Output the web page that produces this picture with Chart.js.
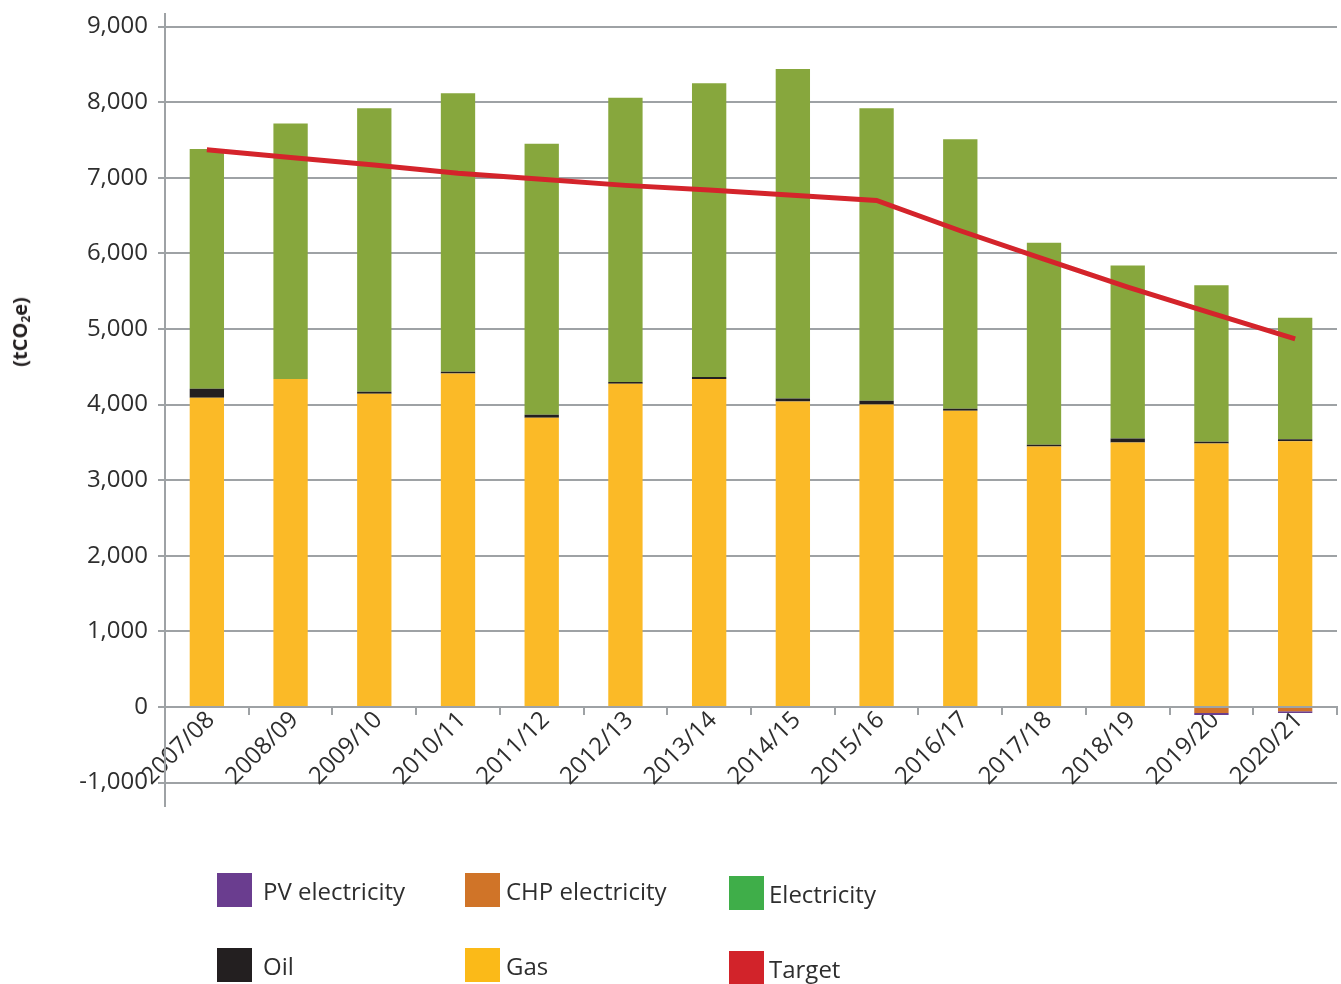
<!DOCTYPE html>
<html>
<head>
<meta charset="utf-8">
<script src="https://cdn.jsdelivr.net/npm/chart.js@4.4.1/dist/chart.umd.min.js"></script>
<style>
  html, body { margin: 0; padding: 0; background: #ffffff; }
  #wrap { position: relative; width: 1341px; height: 984px; overflow: hidden; }
  #c { position: absolute; left: 0; top: 0; }
  .legend-item { position: absolute; display: flex; align-items: center;
    font-family: 'Open Sans', sans-serif; font-weight: 400; font-size: 24px; color: #2e2e2e; white-space: nowrap; }
  .legend-item .swatch { width: 35px; height: 34px; flex: none; }
  #ytitle { position: absolute; left: 20px; top: 332px; transform: translate(-50%, -50%) rotate(-90deg);
    font-family: 'Open Sans', sans-serif; font-weight: 700; font-size: 20px; color: #231f20; white-space: nowrap; line-height: 1; }
  #ytitle sub { font-size: 12px; vertical-align: -3px; line-height: 0; }
</style>
</head>
<body>
<div id="wrap">
  <canvas id="c" width="1341" height="984"></canvas>
  <div id="ytitle">(tCO<sub>2</sub>e)</div>
  <div id="legend"></div>
</div>
<script>
// Financial years
const categories = ['2007/08', '2008/09', '2009/10', '2010/11', '2011/12', '2012/13', '2013/14',
                    '2014/15', '2015/16', '2016/17', '2017/18', '2018/19', '2019/20', '2020/21'];

// Emissions by source (tCO2e)
const gas         = [4090, 4340, 4145, 4410, 3825, 4275, 4340, 4040, 4000, 3920, 3445, 3500, 3485, 3515];
const oil         = [ 120,    0,   25,   25,   40,   25,   25,   40,   50,   25,   25,   50,   25,   25];
const electricity = [3170, 3380, 3750, 3685, 3585, 3760, 3885, 4360, 3870, 3565, 2670, 2290, 2070, 1610];
const chpElectricity = [0, 0, 0, 0, 0, 0, 0, 0, 0, 0, 0, 0, -80, -55];
const pvElectricity  = [0, 0, 0, 0, 0, 0, 0, 0, 0, 0, 0, 0, -25, -25];
const target      = [7370, 7270, 7170, 7060, 6980, 6900, 6840, 6770, 6700, 6300, 5925, 5555, 5210, 4870];

// Value axis range and tick values
const yMin = -1310;
const yMax = 9167;
const yTicks = [-1000, 0, 1000, 2000, 3000, 4000, 5000, 6000, 7000, 8000, 9000];

const FONT = "'Open Sans', sans-serif";
const GRID = '#9ea2a5';
const TEXT = '#2e2e2e';

const colors = {
  gas: '#fbba27',
  oil: '#231f20',
  electricity: '#87a73d',
  chp: '#d2742a',
  pv: '#6a3e8e',
  target: '#d4242b'
};

// Legend entries and their swatch colours
const legendEntries = [
  { label: 'PV electricity',  color: '#6a3d8f' },
  { label: 'CHP electricity', color: '#d07428' },
  { label: 'Electricity',     color: '#3fae49' },
  { label: 'Oil',             color: '#231f20' },
  { label: 'Gas',             color: '#fbba18' },
  { label: 'Target',          color: '#d2232a' }
];
// Legend grid placement (swatch top-left and gap to text)
const legendSlots = [
  { x: 217, y: 873, gap: 11 },
  { x: 465, y: 873, gap: 6 },
  { x: 729, y: 876, gap: 5 },
  { x: 217, y: 948, gap: 11 },
  { x: 465, y: 948, gap: 6 },
  { x: 729, y: 951, gap: 5 }
];

const legendEl = document.getElementById('legend');
legendEntries.forEach((e, i) => {
  const s = legendSlots[i];
  const item = document.createElement('div');
  item.className = 'legend-item';
  item.style.left = s.x + 'px';
  item.style.top = s.y + 'px';
  const sw = document.createElement('span');
  sw.className = 'swatch';
  sw.style.background = e.color;
  sw.style.marginRight = s.gap + 'px';
  const tx = document.createElement('span');
  tx.textContent = e.label;
  item.appendChild(sw);
  item.appendChild(tx);
  legendEl.appendChild(item);
});

const barCommon = { type: 'bar', stack: 'sources', barPercentage: 0.41, categoryPercentage: 1.0, borderWidth: 0 };

new Chart(document.getElementById('c'), {
  data: {
    labels: categories,
    datasets: [
      { ...barCommon, label: 'Gas', data: gas, backgroundColor: colors.gas, order: 1 },
      { ...barCommon, label: 'Oil', data: oil, backgroundColor: colors.oil, order: 1 },
      { ...barCommon, label: 'Electricity', data: electricity, backgroundColor: colors.electricity, order: 1 },
      { ...barCommon, label: 'CHP electricity', data: chpElectricity, backgroundColor: colors.chp, order: 1 },
      { ...barCommon, label: 'PV electricity', data: pvElectricity, backgroundColor: colors.pv, order: 1 },
      { type: 'line', label: 'Target', data: target, stack: 'target', order: 0,
        borderColor: colors.target, borderWidth: 5, pointRadius: 0, tension: 0,
        fill: false, borderCapStyle: 'butt', borderJoinStyle: 'miter' }
    ]
  },
  options: {
    responsive: false,
    animation: false,
    devicePixelRatio: 1,
    layout: { padding: { left: 0, right: 4, top: 14, bottom: 178 } },
    plugins: { legend: { display: false }, tooltip: { enabled: false }, title: { display: false } },
    scales: {
      x: {
        stacked: true,
        position: { y: 0 },
        offset: true,
        grid: { display: true, offset: true, drawOnChartArea: false, drawTicks: true,
                tickLength: 7, tickWidth: 2, tickColor: GRID, color: GRID, lineWidth: 2 },
        border: { display: true, color: GRID, width: 2 },
        ticks: {
          autoSkip: false, minRotation: 45, maxRotation: 45,
          padding: -8, labelOffset: 4,
          color: TEXT, font: { family: FONT, size: 24, weight: '400' }
        },
        afterFit(s) { s.height = 0; s.paddingLeft = 0; s.paddingRight = 0; }
      },
      y: {
        stacked: true,
        min: yMin,
        max: yMax,
        afterBuildTicks(s) { s.ticks = yTicks.map(v => ({ value: v })); },
        ticks: {
          padding: 10,
          color: TEXT, font: { family: FONT, size: 24, weight: '400' }
        },
        grid: { color: GRID, lineWidth: 2, drawTicks: true, tickLength: 7, tickColor: GRID },
        border: { display: true, color: GRID, width: 2 },
        afterFit(s) { s.width = 165; s.paddingTop = 0; s.paddingBottom = 0; }
      }
    }
  }
});
</script>
</body>
</html>
